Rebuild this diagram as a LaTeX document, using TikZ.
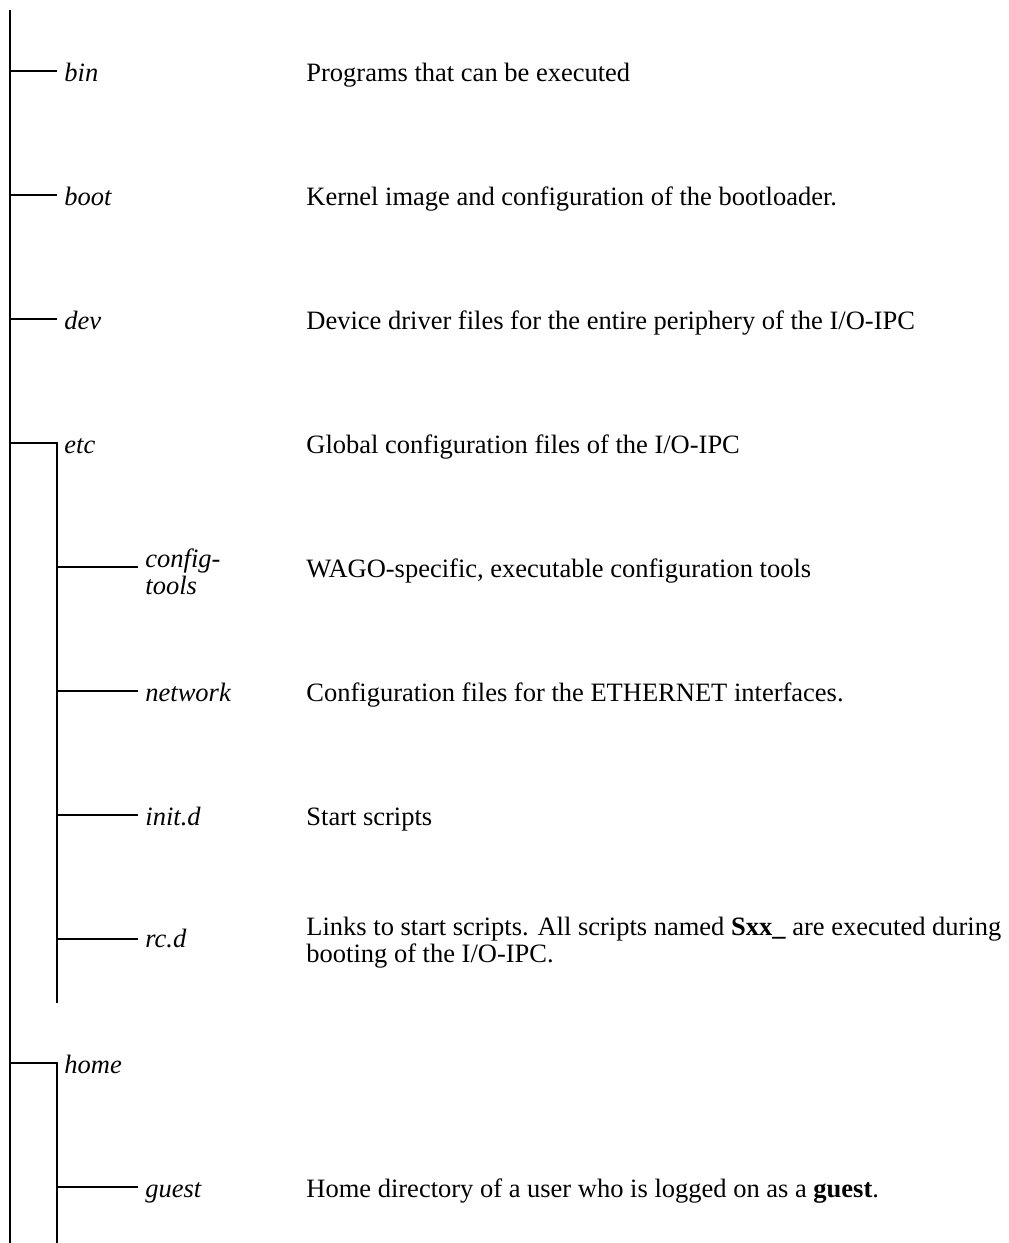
\documentclass[tikz,border=0pt]{standalone}
\usepackage{fontspec}
\setmainfont{Liberation Serif}
\usetikzlibrary{positioning,calc}
\newcommand{\treefont}{\fontsize{13.25}{13.5}\selectfont}
\tikzset{
  dirname/.style={anchor=base west, inner sep=3.5pt, font=\treefont\itshape},
  dirname2/.style={anchor=west, inner sep=3.5pt, align=left, font=\treefont\itshape},
  dirtext/.style={anchor=base west, inner sep=0pt, font=\treefont},
  dirtext2/.style={anchor=west, inner sep=0pt, align=left, font=\treefont},
  treeline/.style={line width=1pt, black}
}

\begin{document}
\begin{tikzpicture}[x=0.5pt, y=-0.5pt]
	\useasboundingbox (0,0) rectangle (1008,1243);
	% main trunk
	\coordinate (trunktop) at (10,10);
	\coordinate (trunkbot) at (10,1243);
	\draw[treeline] (trunktop) -- (trunkbot);
	% first level
	\coordinate (tbin) at (10,71);
	\coordinate (tboot) at (10,195);
	\coordinate (tdev) at (10,319);
	\coordinate (tetc) at (10,443);
	\coordinate (thome) at (10,1063);
	\node[dirname] (bin) at (57,81) {bin};
	\node[dirname] (boot) at (57,205) {boot};
	\node[dirname] (dev) at (57,329) {dev};
	\node[dirname] (etc) at (57,453) {etc};
	\node[dirname] (home) at (57,1073) {home};
	\draw[treeline] (tbin) -- (tbin -| bin.west);
	\draw[treeline] (tboot) -- (tboot -| boot.west);
	\draw[treeline] (tdev) -- (tdev -| dev.west);
	% etc subtree
	\coordinate (etcbot) at (57,1003);
	\draw[treeline] (tetc) -- (tetc -| etc.west) -- (etcbot);
	\coordinate (tcfg) at (57,567);
	\coordinate (tnet) at (57,691);
	\coordinate (tinit) at (57,815);
	\coordinate (trc) at (57,939);
	\node[dirname2] (cfg) at (138,572) {config-\\tools};
	\node[dirname] (net) at (138,701) {network};
	\node[dirname] (init) at (138,825) {init.d};
	\node[dirname] (rc) at (138,947) {rc.d};
	\draw[treeline] (tcfg) -- (tcfg -| cfg.west);
	\draw[treeline] (tnet) -- (tnet -| net.west);
	\draw[treeline] (tinit) -- (tinit -| init.west);
	\draw[treeline] (trc) -- (trc -| rc.west);
	% home subtree
	\coordinate (homebot) at (57,1243);
	\draw[treeline] (thome) -- (thome -| home.west) -- (homebot);
	\coordinate (tguest) at (57,1187);
	\node[dirname] (guest) at (138,1197) {guest};
	\draw[treeline] (tguest) -- (tguest -| guest.west);
	% descriptions
	\node[dirtext] (dbin) at (306,81) {Programs that can be executed};
	\node[dirtext] (dboot) at (306,205) {Kernel image and configuration of the bootloader.};
	\node[dirtext] (ddev) at (306,329) {Device driver files for the entire periphery of the I/O-IPC};
	\node[dirtext] (detc) at (306,453) {Global configuration files of the I/O-IPC};
	\node[dirtext] (dcfg) at (306,577) {WAGO-specific, executable configuration tools};
	\node[dirtext] (dnet) at (306,701) {Configuration files for the ETHERNET interfaces.};
	\node[dirtext] (dinit) at (306,825) {Start scripts};
	\node[dirtext2] (drc) at (306,943) {Links to start scripts. All scripts named \textbf{Sxx\_} are executed during\\booting of the I/O-IPC.};
	\node[dirtext] (dguest) at (306,1197) {Home directory of a user who is logged on as a \textbf{guest}.};
\end{tikzpicture}
\end{document}
